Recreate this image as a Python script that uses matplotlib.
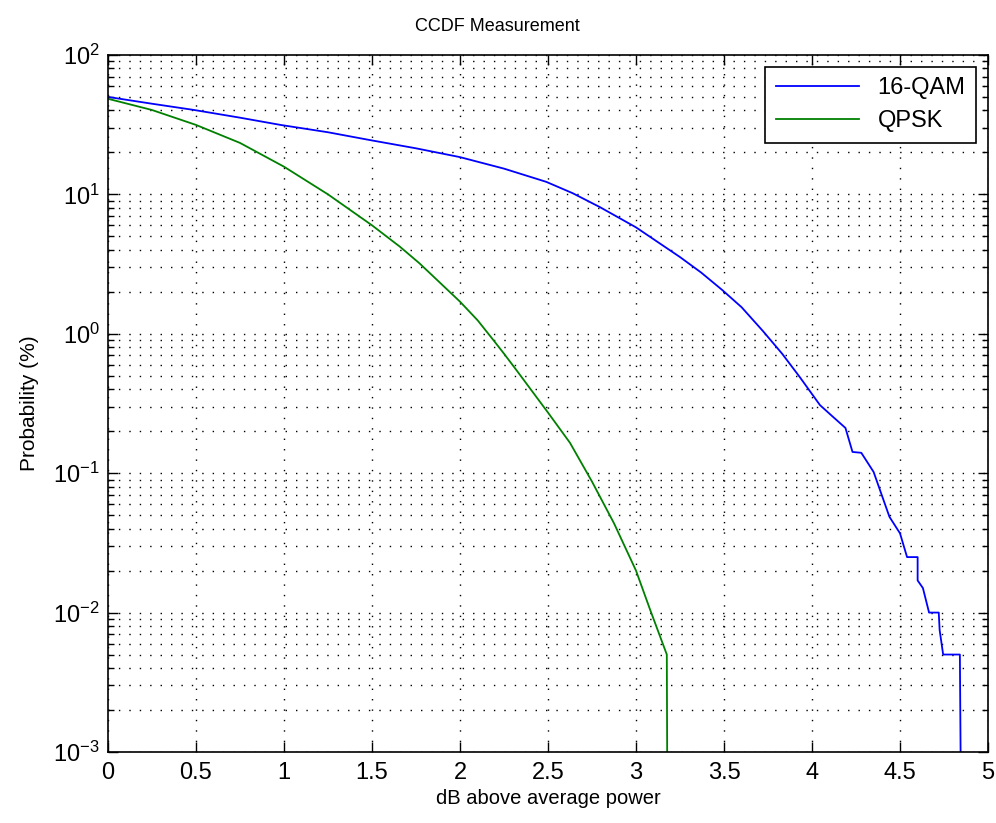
import matplotlib
matplotlib.use("Agg")
import matplotlib.pyplot as plt
import numpy as np
from matplotlib.ticker import LogLocator, FixedLocator

plt.rcParams['font.family'] = ['Liberation Sans', 'DejaVu Sans']
plt.rcParams['mathtext.fontset'] = 'custom'
plt.rcParams['mathtext.rm'] = 'Liberation Sans'
plt.rcParams['mathtext.it'] = 'Liberation Sans'

# values (dB above average power, probability in %)
qam_x = [0, 0.25, 0.49, 0.75, 0.98, 1.25, 1.49, 1.75, 2.0, 2.25, 2.49, 2.64,
         2.795, 3.0, 3.25, 3.37, 3.49, 3.6, 3.72, 3.83, 3.93, 4.045,
         4.12, 4.19, 4.23, 4.28, 4.35, 4.40, 4.44, 4.50, 4.54, 4.60, 4.60,
         4.63, 4.665, 4.72, 4.725, 4.745, 4.84, 4.85]
qam_y = [50, 44.7, 40.3, 35.5, 31.5, 27.9, 24.5, 21.4, 18.5, 15.3, 12.3, 10.2,
         8.1, 5.8, 3.55, 2.75, 2.06, 1.55, 1.05, 0.72, 0.49, 0.308,
         0.253, 0.211, 0.142, 0.14, 0.102, 0.0675, 0.0486, 0.037, 0.025, 0.025, 0.017,
         0.015, 0.01, 0.01, 0.0075, 0.005, 0.005, 1e-4]

qpsk_x = [0, 0.25, 0.5, 0.75, 1.0, 1.25, 1.5, 1.66, 1.77, 2.0, 2.1, 2.19, 2.25, 2.32,
          2.5, 2.625, 2.75, 2.875, 3.0, 3.08, 3.175, 3.18]
qpsk_y = [48.5, 40.3, 31.5, 23.4, 15.8, 10.0, 6.0, 4.2, 3.2, 1.7, 1.25, 0.90, 0.72, 0.55,
          0.272, 0.165, 0.087, 0.0437, 0.02, 0.0105, 0.005, 1e-4]

fig = plt.figure(figsize=(9.96, 8.23), dpi=100)
ax = fig.add_axes([0.1084, 0.0863, 0.8836, 0.8469])

ax.semilogy(qam_x, qam_y, color=(0, 0, 1), lw=1.3, label='16-QAM')
ax.semilogy(qpsk_x, qpsk_y, color=(0, 0.5, 0), lw=1.3, label='QPSK')

ax.set_xlim(0, 5)
ax.set_ylim(1e-3, 1e2)
ax.xaxis.set_major_locator(FixedLocator(np.arange(0, 5.01, 0.5)))
ax.set_xticklabels(['0', '0.5', '1', '1.5', '2', '2.5', '3', '3.5', '4', '4.5', '5'])
ax.yaxis.set_major_locator(LogLocator(base=10, numticks=10))
ax.yaxis.set_minor_locator(LogLocator(base=10, subs=np.arange(2, 10), numticks=20))

dots = (0, (1, 6.5))
ax.grid(True, which='major', axis='both', color='k', linestyle=dots, lw=1.0)
ax.grid(True, which='minor', axis='y', color='k', linestyle=dots, lw=1.0)

ax.tick_params(which='both', direction='in', top=True, right=True, labelsize=17, width=1)
ax.tick_params(which='major', length=7)
ax.tick_params(which='minor', length=4)
ax.tick_params(axis='x', pad=7)
ax.tick_params(axis='y', pad=6)
for s in ax.spines.values():
    s.set_linewidth(1.2)

ax.set_title('CCDF Measurement', fontsize=13, x=0.442, pad=17)
ax.set_xlabel('dB above average power', fontsize=14.5, labelpad=4)
ax.set_ylabel('Probability (%)', fontsize=15, labelpad=10)

leg = ax.legend(loc='upper right', fontsize=17, fancybox=False, framealpha=1,
                edgecolor='k', borderaxespad=0.5, handlelength=3.5,
                borderpad=0.45, labelspacing=0.45)
leg.get_frame().set_linewidth(1.2)

fig.savefig('out.png', dpi=100)
